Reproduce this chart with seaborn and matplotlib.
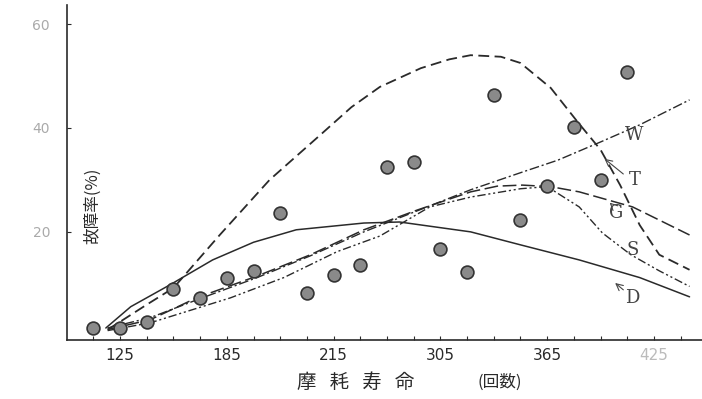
import numpy as np
import pandas as pd
import matplotlib
matplotlib.use('Agg')
import matplotlib.pyplot as plt
import seaborn as sns

sns.set_theme(style='white')
plt.rcParams['font.family'] = ['DejaVu Sans', 'Noto Sans CJK JP']

# measured points (wear life in cycles, failure rate %)
cycles = [110, 125, 140, 155, 170, 185, 200, 215, 230, 245, 260,
          275, 290, 305, 320, 335, 350, 365, 380, 395, 410]
rate = [1.5, 1.5, 2.7, 9.0, 7.3, 11.2, 12.5, 23.7, 8.3, 11.7, 13.7,
        32.5, 33.5, 16.7, 12.3, 46.3, 22.3, 28.8, 40.2, 30.0, 50.8]

# fitted curves
t_x = [118, 125, 140, 155, 181, 209, 237, 255, 271, 294, 310, 322, 339, 350, 367, 382, 395, 406, 417, 428, 445]
t_y = [1.2, 2.7, 6.0, 9.2, 19.4, 30.0, 38.5, 44.0, 47.9, 51.5, 53.2, 54.0, 53.7, 52.5, 47.7, 41.2, 35.8, 29.0, 21.3, 15.6, 12.7]

w_x = [118, 142, 168, 202, 232, 262, 282, 322, 351, 371, 395, 417, 445]
w_y = [1.5, 3.5, 6.9, 11.2, 15.4, 20.0, 22.7, 28.1, 31.5, 33.8, 37.3, 40.6, 45.4]

g_x = [118, 142, 168, 202, 232, 262, 292, 322, 337, 351, 367, 383, 413, 445]
g_y = [1.2, 3.1, 7.3, 11.5, 15.6, 20.4, 24.2, 27.7, 28.8, 29.0, 28.7, 27.7, 24.8, 19.4]

s_x = [118, 142, 187, 217, 247, 271, 299, 322, 350, 365, 383, 396, 412, 428, 445]
s_y = [1.0, 2.5, 7.3, 11.2, 16.2, 19.2, 24.8, 26.7, 28.3, 28.7, 24.8, 19.8, 15.6, 12.5, 9.5]

d_x = [117, 131, 153, 177, 200, 224, 262, 282, 322, 350, 383, 417, 445]
d_y = [1.5, 5.6, 9.8, 14.6, 18.0, 20.4, 21.7, 21.9, 20.0, 17.5, 14.6, 11.2, 7.5]

xticks = [125, 185, 245, 305, 365, 425]
xtick_labels = ['125', '185', '215', '305', '365', '425']
yticks = [20, 40, 60]

fig = plt.figure(figsize=(7.02, 3.99), dpi=100)
ax = fig.add_axes([0.095, 0.148, 0.905, 0.84])

ink = '#2a2a2a'
curves = [
    (t_x, t_y, (0, (6, 3)), 1.3),
    (w_x, w_y, (0, (7, 2, 1.5, 2)), 1.0),
    (g_x, g_y, (0, (9, 3)), 1.1),
    (s_x, s_y, (0, (6, 2, 1.5, 2, 1.5, 2)), 1.0),
    (d_x, d_y, '-', 1.1),
]
for cx, cy, ls, lw in curves:
    sns.lineplot(x=cx, y=cy, ax=ax, color=ink, linestyle=ls, linewidth=lw,
                 sort=False, estimator=None)

sns.scatterplot(x=cycles, y=rate, ax=ax, s=85, color='#8a8a8a',
                edgecolor='#333333', linewidth=1.2, zorder=5)

# curve labels
for lab, lx, ly in [('W', 414, 38.7), ('T', 414, 30.0), ('G', 404, 23.7),
                    ('S', 413, 16.5), ('D', 413, 7.3)]:
    ax.text(lx, ly, lab, fontsize=13, color='#444444', ha='center', va='center',
            family='DejaVu Serif')
ax.annotate('', xy=(396, 34.4), xytext=(409, 30.8),
            arrowprops=dict(arrowstyle='->', color='#444444', lw=0.8))
ax.annotate('', xy=(399, 26.0), xytext=(402, 25.0),
            arrowprops=dict(arrowstyle='->', color='#444444', lw=0.8))
ax.annotate('', xy=(402, 10.5), xytext=(409, 8.5),
            arrowprops=dict(arrowstyle='->', color='#444444', lw=0.8))

ax.set_xlim(95, 452)
ax.set_ylim(-0.8, 63.7)
ax.set_xticks(xticks)
ax.set_xticklabels(xtick_labels)
ax.set_xticks(np.arange(110, 450, 15), minor=True)
ax.set_yticks(yticks)
ax.tick_params(axis='x', which='both', direction='in', length=3, width=0.8,
               colors=ink, labelsize=11, pad=6, bottom=True)
ax.tick_params(axis='y', direction='in', length=3, width=0.8,
               colors=ink, labelsize=10, pad=12, left=True)
for lbl in ax.get_yticklabels():
    lbl.set_color('#aaaaaa')
ax.get_xticklabels()[-1].set_color('#bbbbbb')

sns.despine(ax=ax)
ax.spines['left'].set_color(ink)
ax.spines['bottom'].set_color(ink)
ax.spines['left'].set_linewidth(1.2)
ax.spines['bottom'].set_linewidth(1.2)

ax.text(109.5, 25, '故障率(%)', rotation=90, fontsize=12, color=ink,
        ha='center', va='center', family='Noto Sans CJK JP')

fig.text(0.506, 0.042, '摩   耗   寿   命', fontsize=14, color=ink,
         ha='center', va='center', family='Noto Sans CJK JP')
fig.text(0.712, 0.042, '(回数)', fontsize=12, color=ink,
         ha='center', va='center', family='Noto Sans CJK JP')

fig.savefig('out.png', dpi=100)
